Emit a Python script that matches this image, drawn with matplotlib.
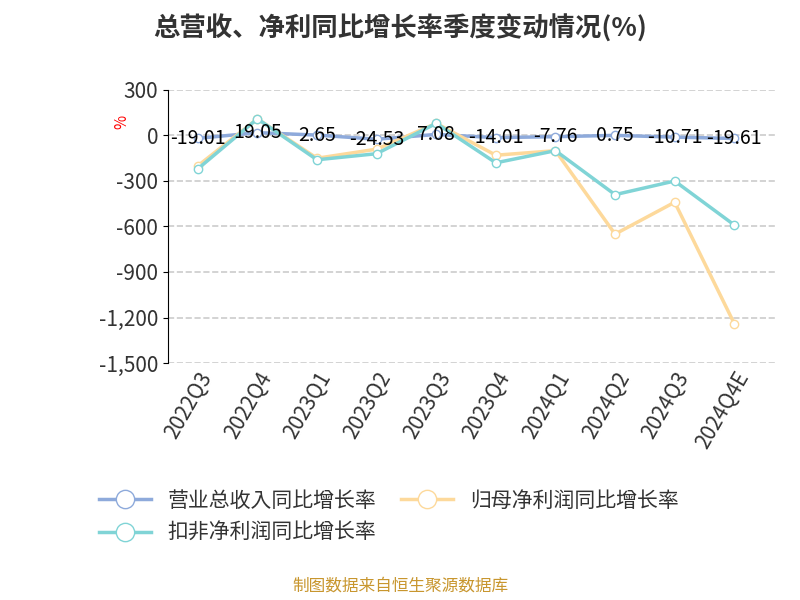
import glob
import matplotlib.pyplot as plt
from matplotlib import font_manager

# register CJK font files explicitly
for f in glob.glob('/usr/share/fonts/**/*CJK*', recursive=True):
    try:
        font_manager.fontManager.addfont(f)
    except Exception:
        pass
plt.rcParams['font.family'] = ['Noto Sans CJK SC', 'Noto Sans CJK JP', 'DejaVu Sans']
plt.rcParams['axes.unicode_minus'] = False

quarters = ['2022Q3', '2022Q4', '2023Q1', '2023Q2', '2023Q3', '2023Q4',
            '2024Q1', '2024Q2', '2024Q3', '2024Q4E']
revenue = [-19.01, 19.05, 2.65, -24.53, 7.08, -14.01, -7.76, 0.75, -10.71, -19.61]
net_profit = [-200, 110, -150, -90, 80, -130, -100, -650, -440, -1240]
deducted = [-220, 110, -160, -120, 80, -180, -100, -390, -300, -590]

fig = plt.figure(figsize=(8, 6), dpi=100)
ax = fig.add_axes([0.21, 0.395, 0.76, 0.455])
x = range(len(quarters))

l1, = ax.plot(x, revenue, color='#8eaadb', lw=2.5, marker='o', mfc='white', ms=6, label='营业总收入同比增长率')
l2, = ax.plot(x, net_profit, color='#fdd99b', lw=2.5, marker='o', mfc='white', ms=6, label='归母净利润同比增长率')
l3, = ax.plot(x, deducted, color='#80d4d6', lw=2.5, marker='o', mfc='white', ms=6, label='扣非净利润同比增长率')

for i, v in enumerate(revenue):
    ax.text(i, v, f'{v:.2f}', ha='center', va='center', fontsize=14, color='black')

ax.set_xlim(-0.5, len(quarters) - 0.3)
ax.set_ylim(-1500, 300)
ax.set_yticks(range(-1500, 301, 300))
ax.set_yticklabels([f'{t:,}' for t in range(-1500, 301, 300)], fontsize=15, color='#333333')
ax.set_xticks(list(x))
ax.set_xticklabels(quarters, rotation=60, ha='right', rotation_mode='anchor', fontsize=15, color='#333333')
ax.grid(axis='y', ls='--', color='#cccccc', lw=1.2)
for s in ['top', 'right', 'bottom']:
    ax.spines[s].set_visible(False)
ax.spines['left'].set_color('black')
ax.tick_params(axis='x', length=0)
ax.text(-0.09, 0.87, '%', transform=ax.transAxes, color='red', fontsize=11, rotation=90)

fig.suptitle('总营收、净利同比增长率季度变动情况(%)', x=0.5, y=0.975, fontsize=19, fontweight='bold', color='#333333')
fig.legend([l1, l3, l2], [l1.get_label(), l3.get_label(), l2.get_label()],
           loc='upper left', bbox_to_anchor=(0.1, 0.215), ncol=2, frameon=False,
           fontsize=15, handlelength=2.5, markerscale=2.2, columnspacing=1.2, labelcolor='#333333')
fig.text(0.5, 0.015, '制图数据来自恒生聚源数据库', ha='center', fontsize=12, color='#c8962e')

fig.savefig('out.png')
